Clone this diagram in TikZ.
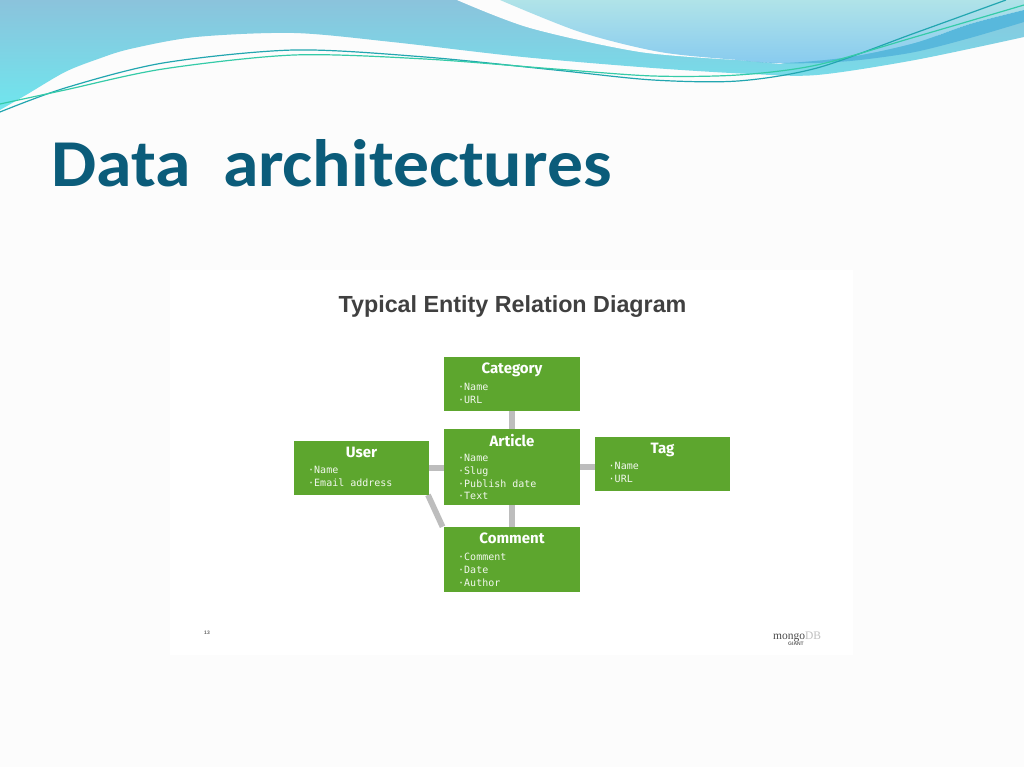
\documentclass[tikz,border=0pt]{standalone}
\usepackage{fontspec}
\setmainfont{Carlito}
\newfontfamily\titlefont[FakeStretch=1.07]{Carlito}
\newfontfamily\boxfont{Fira Sans}
\newfontfamily\listfont{DejaVu Sans Mono}
\newfontfamily\headfont{Liberation Sans}
\newfontfamily\logofont{Liberation Serif}
\usepackage{tikz}
\usetikzlibrary{positioning,backgrounds,calc}
\definecolor{boxgreen}{HTML}{5DA62E}
\definecolor{linkgray}{HTML}{BDBDBD}
\definecolor{titleblue}{HTML}{0B5C7A}
\definecolor{pagewhite}{HTML}{FCFCFC}
\definecolor{wavetop}{HTML}{8BC3DC}
\definecolor{wavelow}{HTML}{6FE6EE}
\definecolor{lighttop}{HTML}{B0E3E8}
\definecolor{lightlow}{HTML}{88CBEF}
\definecolor{waveband}{HTML}{58B8DC}
\definecolor{linedark}{HTML}{22A6B0}
\definecolor{linelight}{HTML}{35CBA8}
\tikzset{
  entity/.style={fill=boxgreen, draw=none, minimum width=135.5pt, inner sep=0pt},
  entitytitle/.style={text=white, font=\boxfont\fontsize{15}{16}\selectfont\bfseries, inner sep=0pt, anchor=north},
  entitylist/.style={text=white!92!boxgreen, font=\listfont\fontsize{10}{12.7}\selectfont, align=left, inner sep=0pt, anchor=north west},
  link/.style={draw=linkgray, line width=5.8pt}
}
\begin{document}
\begin{tikzpicture}[x=1pt,y=-1pt]
  \useasboundingbox (0,0) rectangle (1024,767);
  \begin{scope}[on background layer]
    \fill[pagewhite] (0,0) rectangle (1024,767);
    % waves
    \shade[top color=wavetop, bottom color=wavelow] plot[smooth] coordinates {(0,110) (26,95) (65,72) (98,59) (130,49) (196,37) (294,33) (392,42) (523,57) (653,68) (751,74) (817,75) (915,60) (1024,37)} -- (1024,0) -- (0,0) -- cycle;
    \fill[pagewhite] plot[smooth] coordinates {(457,0) (530,28) (640,52) (738,60)} -- (780,64) -- (1024,20) -- (1024,0) -- cycle;
    \shade[top color=lighttop, bottom color=lightlow] plot[smooth] coordinates {(500,0) (580,32) (660,52) (738,60) (784,63) (850,57) (915,43) (970,24) (1024,10)} -- (1024,0) -- cycle;
    \fill[waveband] plot[smooth] coordinates {(738,60) (784,63) (850,57) (915,43) (970,24) (1024,10)} -- plot[smooth] coordinates {(1024,22) (970,38) (915,52) (860,60) (817,63) (770,63) (738,60)} -- cycle;
    \draw[linedark, line width=1.2pt] plot[smooth] coordinates {(0,112) (65,88) (163,63) (294,50) (425,57) (555,70) (653,80) (738,81) (817,68) (915,33) (1006,0)};
    \draw[linelight, line width=1.2pt] plot[smooth] coordinates {(0,104) (65,90) (163,69) (294,55) (425,59) (555,69) (653,76) (738,75) (817,65) (915,37) (1024,5)};
    % panel
    \fill[white] (170,270) rectangle (853,655);
  \end{scope}

  \node[anchor=base west, text=titleblue, font=\titlefont\fontsize{67}{70}\selectfont\bfseries, inner sep=0pt] (title) at (51,187) {Data\ \ architectures};
  \node[anchor=base, text=black!75, font=\headfont\fontsize{23.3}{26}\selectfont\bfseries, inner sep=0pt] (head) at (512.5,312) {Typical Entity Relation Diagram};

  %entities
  \node[entity, minimum height=54pt] (category) at (512,384) {};
  \node[entity, minimum height=76.5pt] (article) at (512,467) {};
  \node[entity, minimum height=54pt] (user) at (361.5,467.7) {};
  \node[entity, minimum height=54pt] (tag) at (662.5,463.7) {};
  \node[entity, minimum height=64.7pt] (comment) at (512,559.3) {};

  \node[entitytitle] (categorytitle) at (512,363) {Category};
  \node[entitytitle] (articletitle) at (512,434.5) {Article};
  \node[entitytitle] (usertitle) at (361.5,446.5) {User};
  \node[entitytitle] (tagtitle) at (662.5,442.5) {Tag};
  \node[entitytitle] (commenttitle) at (512,533) {Comment};

  \node[entitylist] (categorylist) at (458,383) {·Name\\·URL};
  \node[entitylist] (articlelist) at (458,454.3) {·Name\\·Slug\\·Publish date\\·Text};
  \node[entitylist] (userlist) at (308,466) {·Name\\·Email address};
  \node[entitylist] (taglist) at (608.5,462) {·Name\\·URL};
  \node[entitylist] (commentlist) at (458,553) {·Comment\\·Date\\·Author};

  \begin{scope}[on background layer]
    \draw[link] (category) -- (article);
    \draw[link] (article) -- (comment);
    \draw[link] (user.east) -- (user.east -| article.west);
    \draw[link] (article.east) -- (tag.west |- article.east);
    \draw[link] ($(user.south east)+(-1.5,0)$) -- ($(comment.north west)+(-1.5,0)$);
  \end{scope}

  \node[text=black!60, font=\headfont\fontsize{5}{6}\selectfont\bfseries, inner sep=0pt] (pageno) at (207,633) {13};
  \node[text=black!70, font=\logofont\fontsize{11.5}{13}\selectfont, inner sep=0pt, anchor=base west] (mongo) at (773,639) {mongo\textcolor{black!25}{DB}};
  \node[text=black!60, font=\headfont\fontsize{5}{5}\selectfont\bfseries, inner sep=0pt] (giant) at (796,644) {GIANT};
\end{tikzpicture}
\end{document}
